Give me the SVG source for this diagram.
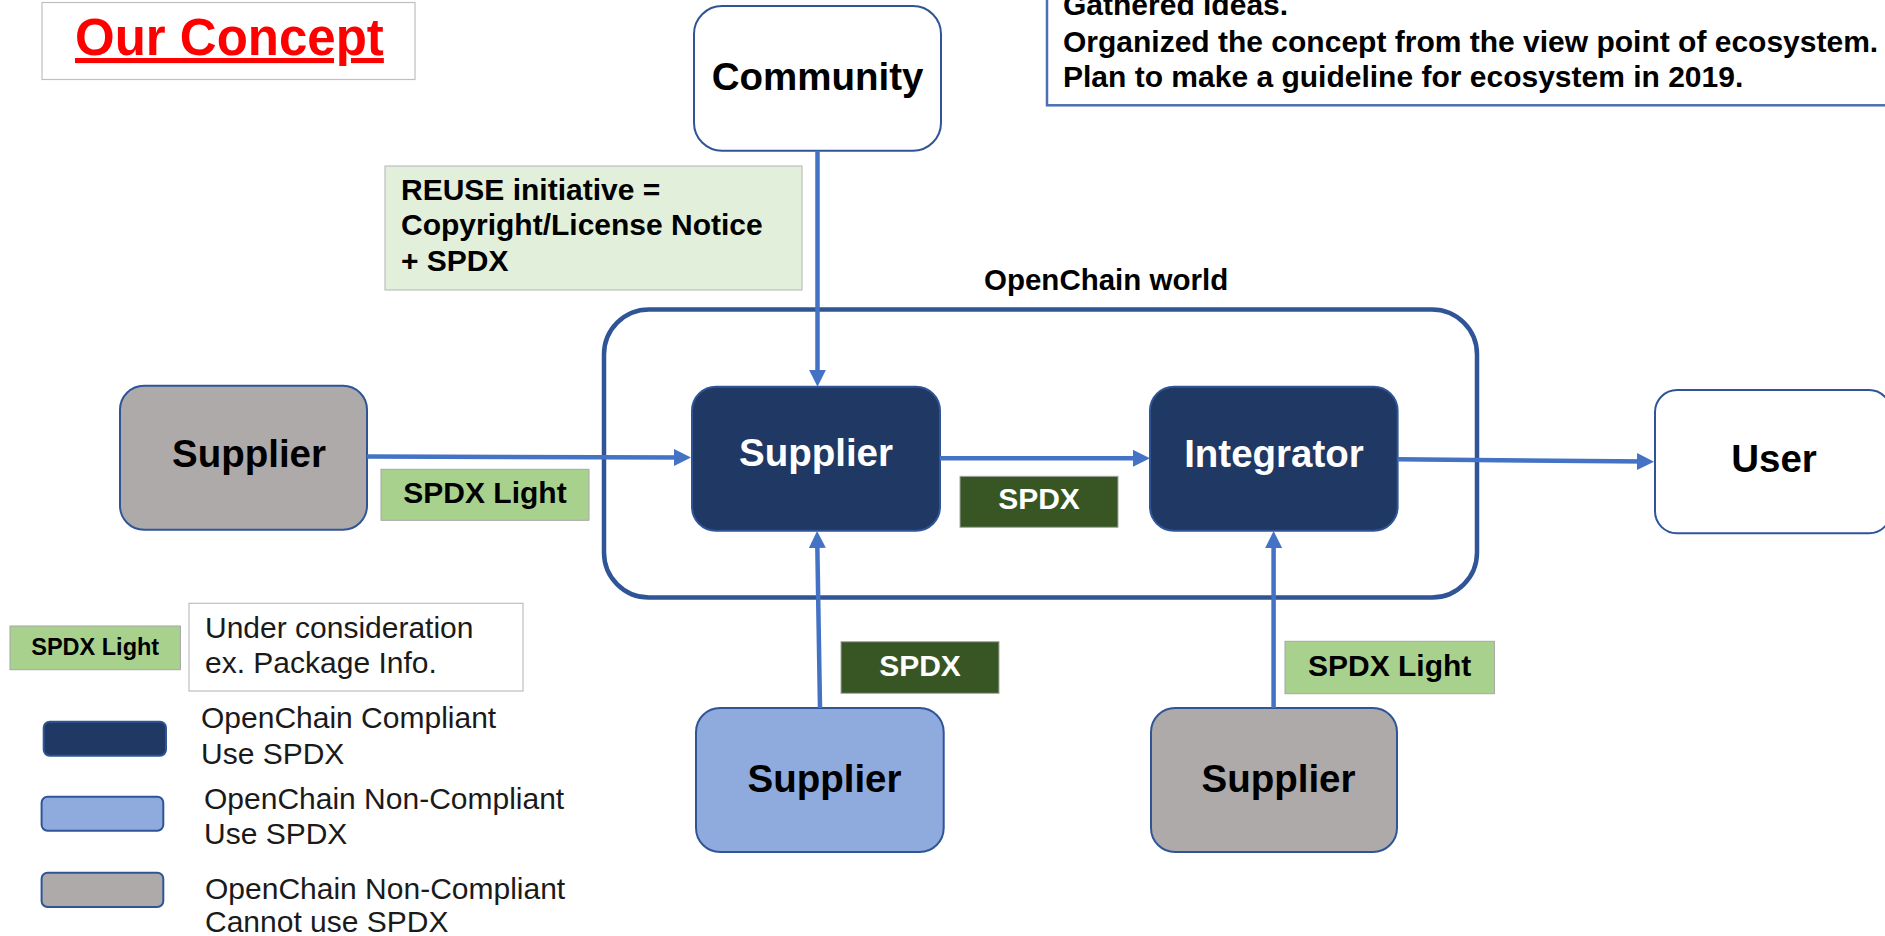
<svg xmlns="http://www.w3.org/2000/svg" width="1885" height="936" viewBox="0 0 1885 936">
<style>
text{font-family:"Liberation Sans",Arial,sans-serif;}
.b{font-weight:bold;}
.node{font-size:38.5px;font-weight:bold;}
.lbl{font-size:30px;font-weight:bold;}
.leg{font-size:30px;fill:#1a1a1a;}
.conn{stroke:#4472c4;stroke-width:4.5;fill:none;marker-end:url(#ah);}
.tag{stroke:#a6a6a6;stroke-width:1;}
.nb{stroke:#2f5597;stroke-width:2;}
</style>
<defs>
<marker id="ah" markerUnits="userSpaceOnUse" markerWidth="17" markerHeight="17" refX="9" refY="8.5" orient="auto">
<path d="M0,0 L17,8.5 L0,17 z" fill="#4472c4"/>
</marker>
</defs>
<rect width="1885" height="936" fill="#ffffff"/>

<g id="title">
<rect x="42" y="2.5" width="373" height="77" fill="#ffffff" stroke="#bfbfbf" stroke-width="1.2"/>
<text x="75" y="55" font-size="51" class="b" fill="#ff0000" text-decoration="underline">Our Concept</text>
</g>

<g id="notes">
<rect x="1047" y="-40" width="850" height="145.3" fill="#ffffff" stroke="#4a6fb5" stroke-width="2.5"/>
<text class="lbl" fill="#000"><tspan x="1063" y="15">Gathered ideas.</tspan><tspan x="1063" y="51.7">Organized the concept from the view point of ecosystem.</tspan><tspan x="1063" y="87.3">Plan to make a guideline for ecosystem in 2019.</tspan></text>
</g>

<g id="reuse">
<rect x="385" y="166" width="417" height="124" fill="#e2efda" stroke="#bfbfbf" stroke-width="1.2"/>
<text class="lbl" fill="#000"><tspan x="401" y="200">REUSE initiative =</tspan><tspan x="401" y="235">Copyright/License Notice</tspan><tspan x="401" y="270.7">+ SPDX</tspan></text>
</g>

<g id="openchain-world">
<rect x="604" y="309.5" width="873" height="288" rx="45" fill="none" stroke="#2f5597" stroke-width="4.5"/>
<text x="984" y="290" font-size="29.5" class="b" fill="#000">OpenChain world</text>
</g>

<g id="community">
<rect x="694" y="6" width="247" height="144.7" rx="28" fill="#ffffff" class="nb"/>
<text x="817.5" y="90" class="node" text-anchor="middle" fill="#000">Community</text>
</g>

<g id="supplier-left">
<rect x="120" y="385.7" width="247" height="144" rx="24" fill="#aeaaaa" class="nb"/>
<text x="249" y="467" class="node" text-anchor="middle" fill="#000">Supplier</text>
</g>

<g id="supplier-main">
<rect x="692" y="386.7" width="248" height="144" rx="24" fill="#203864" class="nb"/>
<text x="816" y="466" class="node" text-anchor="middle" fill="#ffffff">Supplier</text>
</g>

<g id="integrator">
<rect x="1150" y="386.7" width="247.6" height="144" rx="24" fill="#203864" class="nb"/>
<text x="1274" y="466.7" class="node" text-anchor="middle" fill="#ffffff">Integrator</text>
</g>

<g id="user">
<rect x="1655" y="390" width="236" height="143.3" rx="22" fill="#ffffff" class="nb"/>
<text x="1774" y="471.7" class="node" text-anchor="middle" fill="#000">User</text>
</g>

<g id="supplier-bottom-blue">
<rect x="696" y="708" width="247.7" height="144" rx="24" fill="#8faadc" class="nb"/>
<text x="824.5" y="791.5" class="node" text-anchor="middle" fill="#000">Supplier</text>
</g>

<g id="supplier-bottom-gray">
<rect x="1151" y="708" width="246" height="144" rx="24" fill="#aeaaaa" class="nb"/>
<text x="1278.5" y="791.5" class="node" text-anchor="middle" fill="#000">Supplier</text>
</g>

<g id="connectors">
<path class="conn" d="M817.5,150.7 L817.5,378.7"/>
<path class="conn" d="M367,456.5 L683,457.5"/>
<path class="conn" d="M940,458.3 L1142,458.3"/>
<path class="conn" d="M1397.6,459.3 L1646,461.6"/>
<path class="conn" d="M820,708 L817.2,539"/>
<path class="conn" d="M1273.6,708 L1273.6,539"/>
</g>

<g id="label-spdx-light-left">
<rect x="381" y="469.3" width="208" height="51" fill="#a9d18e" class="tag"/>
<text x="485" y="502.7" class="lbl" text-anchor="middle" fill="#000">SPDX Light</text>
</g>

<g id="label-spdx-mid">
<rect x="960" y="476.3" width="158" height="51" fill="#375623" class="tag"/>
<text x="1039" y="509.3" class="lbl" text-anchor="middle" fill="#ffffff">SPDX</text>
</g>

<g id="label-spdx-bottom">
<rect x="841" y="641.7" width="158" height="51.6" fill="#375623" class="tag"/>
<text x="920" y="675.7" class="lbl" text-anchor="middle" fill="#ffffff">SPDX</text>
</g>

<g id="label-spdx-light-bottom">
<rect x="1285" y="641.3" width="209.4" height="52.4" fill="#a9d18e" class="tag"/>
<text x="1389.7" y="676" class="lbl" text-anchor="middle" fill="#000">SPDX Light</text>
</g>

<g id="legend">
<rect x="10" y="626" width="170.4" height="43.7" fill="#a9d18e" class="tag"/>
<text x="95.2" y="655" font-size="23.5" class="b" text-anchor="middle" fill="#000">SPDX Light</text>
<rect x="189" y="603.3" width="334" height="87.7" fill="#ffffff" stroke="#bfbfbf" stroke-width="1.2"/>
<text class="leg"><tspan x="205" y="637.7">Under consideration</tspan><tspan x="205" y="672.7">ex. Package Info.</tspan></text>

<rect x="43.7" y="721.7" width="122.3" height="34" rx="6" fill="#203864" class="nb"/>
<text class="leg"><tspan x="201" y="728.3">OpenChain Compliant</tspan><tspan x="201" y="764">Use SPDX</tspan></text>

<rect x="41.6" y="796.7" width="121.7" height="34" rx="6" fill="#8faadc" class="nb"/>
<text class="leg"><tspan x="204" y="809">OpenChain Non-Compliant</tspan><tspan x="204" y="844.3">Use SPDX</tspan></text>

<rect x="41.6" y="872.7" width="121.7" height="34.3" rx="6" fill="#aeaaaa" class="nb"/>
<text class="leg"><tspan x="205" y="899.3">OpenChain Non-Compliant</tspan><tspan x="205" y="932">Cannot use SPDX</tspan></text>
</g>
</svg>
